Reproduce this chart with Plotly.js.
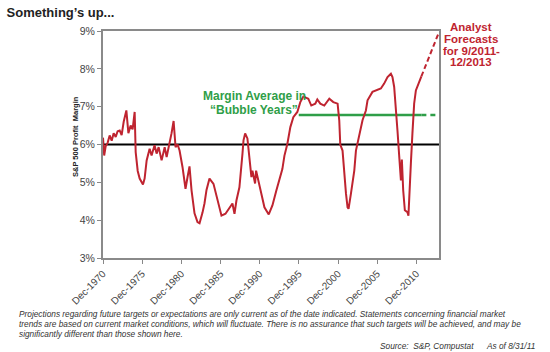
<!DOCTYPE html>
<html><head><meta charset="utf-8">
<script src="https://cdn.plot.ly/plotly-3.0.1.min.js"></script>
<style>html,body{margin:0;padding:0;background:#fff;}#chart{width:550px;height:352px;}</style>
</head><body><div id="chart"></div>
<script>
// Decimal years (Dec-1970 = 1970.92) and S&P 500 profit margin (%)
var years = [1970.92,1971.07,1971.26,1971.52,1971.77,1972.03,1972.28,1972.54,1972.79,1973.05,1973.3,1973.56,1973.9,1974.16,1974.45,1974.7,1974.96,1975.09,1975.35,1975.6,1976.02,1976.23,1976.49,1976.87,1977.12,1977.5,1977.76,1978.02,1978.4,1978.79,1979.04,1979.42,1979.67,1979.93,1980.18,1980.44,1980.69,1981.07,1981.45,1981.71,1981.96,1982.22,1982.6,1982.98,1983.24,1983.62,1983.87,1984.13,1984.51,1985.02,1985.53,1986.04,1986.55,1987.06,1987.44,1987.7,1987.95,1988.33,1988.59,1988.72,1988.85,1989.06,1989.35,1989.61,1989.86,1989.99,1990.33,1990.46,1990.63,1991.14,1991.52,1992.07,1992.54,1993.05,1993.43,1993.81,1994.07,1994.45,1994.83,1995.21,1995.72,1996.1,1996.49,1997.12,1997.5,1998.01,1998.27,1998.65,1999.16,1999.8,2000.31,2000.86,2001.07,2001.2,2001.49,2001.71,2001.93,2002.13,2002.26,2002.56,2002.77,2002.99,2003.2,2003.62,2004.04,2004.47,2004.68,2005.31,2005.75,2006.38,2006.8,2007.23,2007.66,2007.86,2008.08,2008.3,2008.5,2008.72,2008.94,2009.06,2009.23,2009.44,2009.77,2009.9,2009.99,2010.21,2010.41,2010.63,2010.85,2011.27,2011.55];
var margins = [6.18,5.71,5.95,6.05,6.24,6.1,6.3,6.2,6.35,6.37,6.25,6.6,6.9,6.3,6.5,6.4,6.86,5.8,5.3,5.1,4.94,5.1,5.58,5.89,5.71,5.98,5.76,5.93,5.58,5.93,5.67,6.02,6.3,6.62,5.93,6.0,5.84,5.4,4.83,5.14,5.42,4.79,4.18,3.95,3.92,4.2,4.44,4.8,5.1,4.96,4.52,4.12,4.17,4.34,4.44,4.17,4.52,4.87,5.37,5.76,6.11,6.29,6.16,5.67,5.14,5.31,4.97,5.31,5.14,4.7,4.34,4.15,4.39,4.79,5.1,5.35,5.7,6.02,6.46,6.72,6.86,7.12,7.27,7.21,7.03,7.08,7.19,7.08,7.03,7.21,7.12,7.08,6.64,6.0,5.84,5.23,4.7,4.34,4.3,4.7,5.0,5.31,5.84,6.2,6.64,6.9,7.17,7.39,7.43,7.48,7.61,7.78,7.87,7.78,7.52,6.99,6.37,5.7,5.05,5.6,4.79,4.26,4.21,4.12,4.6,5.5,6.3,7.08,7.43,7.65,7.8];
var forecastYears = [2011.55, 2012.7, 2013.8];
var forecastMargins = [7.8, 8.4, 8.97];
var longAvg = 6.0;
var bubbleAvg = 6.78;
var bubbleYears = [1995.9, 2011.55];
var bubbleFwdYears = [2011.55, 2013.5];
var xRange = [1970.92, 2013.8];
var tickYears = [1970.92,1975.92,1980.92,1985.92,1990.92,1995.92,2000.92,2005.92,2010.92];
var tickLabels = ['Dec-1970','Dec-1975','Dec-1980','Dec-1985','Dec-1990','Dec-1995','Dec-2000','Dec-2005','Dec-2010'];
var forecastLines = ['Analyst', 'Forecasts', 'for 9/2011-', '12/2013'];
var bubbleLines = ['Margin Average in', '“Bubble Years”'];
var noteLines = [
  'Projections regarding future targets or expectations are only current as of the date indicated. Statements concerning financial market',
  'trends are based on current market conditions, which will fluctuate. There is no assurance that such targets will be achieved, and may be',
  'significantly different than those shown here.'
];
var sourceText = 'Source:  S&P, Compustat      As of 8/31/11';

var red = '#bf2430', green = '#2f9e48';
// plot area in pixels
var L = 103, R = 439, T = 31, B = 258;
function px(x){ return (x - L) / (R - L); }
function py(y){ return (B - y) / (B - T); }

var traces = [
  {x: xRange, y: [longAvg, longAvg], mode: 'lines', line: {color: '#000', width: 2}, hoverinfo: 'skip'},
  {x: bubbleYears, y: [bubbleAvg, bubbleAvg], mode: 'lines', line: {color: green, width: 2.5}, hoverinfo: 'skip'},
  {x: bubbleFwdYears, y: [bubbleAvg, bubbleAvg], mode: 'lines', line: {color: green, width: 2.5, dash: '5px,4px'}, hoverinfo: 'skip'},
  {x: years, y: margins, mode: 'lines', line: {color: red, width: 2}},
  {x: forecastYears, y: forecastMargins, mode: 'lines', line: {color: red, width: 2, dash: '5px,3px'}}
];

var fnt = 'Liberation Sans, Arial, sans-serif';
var ann = [];
var bubbleY = [96, 110];
bubbleLines.forEach(function(t, i){
  ann.push({xref: 'paper', yref: 'paper', x: px(254), y: py(bubbleY[i]), text: '<b>' + t + '</b>', showarrow: false,
    font: {size: 12, color: green, family: fnt}, xanchor: 'center', yanchor: 'middle'});
});
var fcY = [27, 39, 50.5, 62];
forecastLines.forEach(function(t, i){
  ann.push({xref: 'paper', yref: 'paper', x: px(471), y: py(fcY[i]), text: '<b>' + t + '</b>', showarrow: false,
    font: {size: 11.5, color: red, family: fnt}, xanchor: 'center', yanchor: 'middle'});
});
var noteY = [314, 324, 334];
noteLines.forEach(function(t, i){
  ann.push({xref: 'paper', yref: 'paper', x: px(17), y: py(noteY[i]), text: '<i>' + t + '</i>', showarrow: false,
    font: {size: 8.3, color: '#333', family: fnt}, xanchor: 'left', yanchor: 'middle'});
});
ann.push({xref: 'paper', yref: 'paper', x: px(537), y: py(346), xanchor: 'right', yanchor: 'middle', showarrow: false,
  text: '<i>' + sourceText + '</i>', font: {size: 8.3, color: '#333', family: fnt}});
ann.push({xref: 'paper', yref: 'paper', x: px(75), y: py(137), xanchor: 'center', yanchor: 'middle', showarrow: false, textangle: -90,
  text: '<b>S&P 500 Profit  Margin</b>', font: {size: 7.5, color: '#222', family: fnt}});

var layout = {
  width: 550, height: 352, showlegend: false,
  paper_bgcolor: '#fff', plot_bgcolor: '#fff',
  margin: {l: L, r: 550 - R, t: T, b: 352 - B, pad: 0},
  font: {family: fnt, color: '#444'},
  title: {text: "<b>Something’s up...</b>", x: 0.012, xref: 'container', xanchor: 'left', y: 0.965, yref: 'container', yanchor: 'middle', font: {size: 13, color: '#222', family: fnt}},
  xaxis: {range: xRange, tickvals: tickYears, ticktext: tickLabels, tickangle: -45, tickfont: {size: 10, color: '#444'},
          showgrid: false, zeroline: false, showline: true, linecolor: '#8a8a8a', linewidth: 2, mirror: true,
          ticks: 'outside', ticklen: 4, tickcolor: '#888', tickwidth: 1},
  yaxis: {range: [3, 9], dtick: 1, ticksuffix: '%', tickfont: {size: 10.5, color: '#444'},
          showgrid: false, zeroline: false, showline: true, linecolor: '#8a8a8a', linewidth: 2, mirror: true,
          ticks: 'outside', ticklen: 4, tickcolor: '#888', tickwidth: 1},
  annotations: ann
};
Plotly.newPlot('chart', traces, layout, {displayModeBar: false, staticPlot: true});
</script></body></html>
